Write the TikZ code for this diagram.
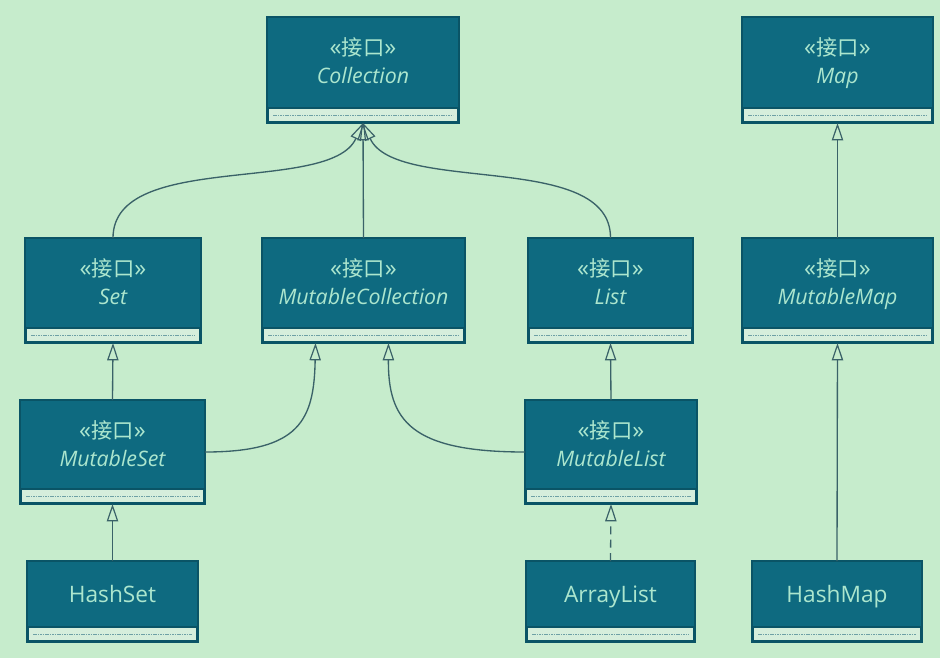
\documentclass[tikz,border=0pt]{standalone}
\usepackage{fontspec}
\setmainfont{Open Sans}
\newfontfamily\cjk{Noto Sans CJK SC}
\usetikzlibrary{arrows.meta,fit,calc}
\definecolor{bgcol}{RGB}{198,236,204}
\definecolor{boxfill}{RGB}{14,106,128}
\definecolor{boxdraw}{RGB}{10,84,102}
\definecolor{txtcol}{RGB}{172,230,206}
\definecolor{bandfill}{RGB}{214,238,220}
\definecolor{banddash}{RGB}{110,160,165}
\definecolor{linecol}{RGB}{58,98,104}
\newcommand\gql{{\rmfamily\fontsize{18}{18}\selectfont«}}
\newcommand\gqr{{\rmfamily\fontsize{18}{18}\selectfont»}}
\tikzset{
  clsbox/.style={draw=boxdraw, fill=boxfill, line width=1.2pt, inner sep=0pt, outer sep=0pt},
  bandbox/.style={fill=bandfill, draw=boxdraw, line width=0.8pt},
  bandline/.style={draw=banddash, line width=0.6pt, dash pattern=on 1.2pt off 0.6pt},
  stereo/.style={text=txtcol, font=\cjk\fontsize{16}{18}\selectfont, inner sep=0pt, anchor=base},
  iname/.style={text=txtcol, font=\itshape\fontsize{16}{18}\selectfont, inner sep=0pt, anchor=base},
  cname/.style={text=txtcol, font=\fontsize{17}{19}\selectfont, inner sep=0pt, anchor=base},
  gen/.style={draw=linecol, line width=1pt, -{Triangle[open, length=13pt, width=8.5pt, line width=0.9pt]}},
  real/.style={gen, dash pattern=on 6pt off 4pt}
}
% #1 name, #2 x1, #3 y1, #4 x2, #5 y2
\newcommand\umlframe[5]{%
  \node[clsbox, fit={(#2,#3) (#4,#5)}] (#1) {};
  \draw[bandbox] (#2+1,#5-15) rectangle (#4-1,#5-1);
  \draw[bandline] (#2+6,#5-8) -- (#4-6,#5-8);
}
\newcommand\umliface[6]{%
  \umlframe{#1}{#2}{#3}{#4}{#5}
  \node[stereo] (#1-st) at ({(#2+#4)/2},#3+38) {\gql 接口\gqr};
  \node[iname] (#1-nm) at ({(#2+#4)/2},#3+66) {#6};
}
\newcommand\umlclass[6]{%
  \umlframe{#1}{#2}{#3}{#4}{#5}
  \node[cname] (#1-nm) at ({(#2+#4)/2},#3+41) {#6};
}
\begin{document}
\begin{tikzpicture}[x=0.75pt,y=-0.75pt]
\fill[bgcol] (0,0) rectangle (940,658);
\useasboundingbox (0,0) rectangle (940,658);
\umliface{coll}{267}{17}{459}{123}{Collection}
\umliface{map}{742}{17}{933}{123}{Map}
\umliface{set}{25}{238}{201}{343}{Set}
\umliface{mcoll}{262}{238}{465}{343}{MutableCollection}
\umliface{list}{528}{238}{693}{343}{List}
\umliface{mmap}{742}{238}{933}{343}{MutableMap}
\umliface{mset}{20}{400}{205}{504}{MutableSet}
\umliface{mlist}{525}{400}{697}{504}{MutableList}
\umlclass{hset}{27}{561}{198}{642}{HashSet}
\umlclass{alist}{526}{561}{695}{642}{ArrayList}
\umlclass{hmap}{752}{561}{922}{642}{HashMap}
% connectors
\draw[gen] (mcoll.north) -- (coll.south);
\draw[gen] (set.north) .. controls (113,150) and (330,195) .. (coll.south);
\draw[gen] (list.north) .. controls (611,150) and (396,195) .. (coll.south);
\draw[gen] (mset.north) -- (set.south);
\draw[gen] (mlist.north) -- (list.south);
\draw[gen] (mset.east) .. controls (300,452) and (314,420) .. ($(mcoll.south)+(-48,0)$);
\draw[gen] (mlist.west) .. controls (410,452) and (388,420) .. ($(mcoll.south)+(25,0)$);
\draw[gen] (hset.north) -- (mset.south);
\draw[real] (alist.north) -- (mlist.south);
\draw[gen] (mmap.north) -- (map.south);
\draw[gen] (hmap.north) -- (mmap.south);
\end{tikzpicture}
\end{document}
